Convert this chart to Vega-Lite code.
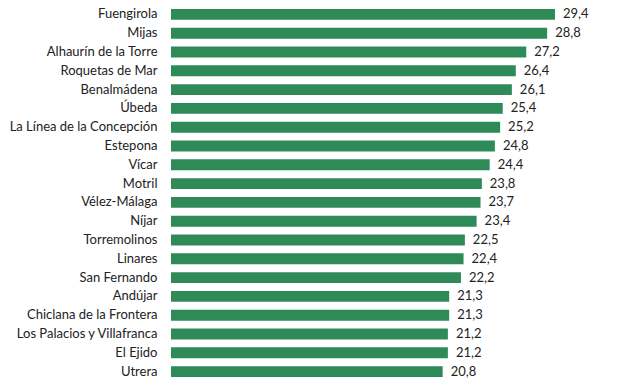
{
  "$schema": "https://vega.github.io/schema/vega-lite/v6.json",
  "autosize": "none",
  "padding": {"left": 171, "top": 5, "right": 0, "bottom": 0},
  "width": 440,
  "height": 376,
  "background": "white",
  "config": {
    "view": {"stroke": null},
    "locale": {"number": {"decimal": ",", "thousands": ".", "grouping": [3], "currency": ["", " €"]}},
    "font": "Lato"
  },
  "data": {"values": [
    {"municipio": "Fuengirola", "valor": 29.4},
    {"municipio": "Mijas", "valor": 28.8},
    {"municipio": "Alhaurín de la Torre", "valor": 27.2},
    {"municipio": "Roquetas de Mar", "valor": 26.4},
    {"municipio": "Benalmádena", "valor": 26.1},
    {"municipio": "Úbeda", "valor": 25.4},
    {"municipio": "La Línea de la Concepción", "valor": 25.2},
    {"municipio": "Estepona", "valor": 24.8},
    {"municipio": "Vícar", "valor": 24.4},
    {"municipio": "Motril", "valor": 23.8},
    {"municipio": "Vélez-Málaga", "valor": 23.7},
    {"municipio": "Níjar", "valor": 23.4},
    {"municipio": "Torremolinos", "valor": 22.5},
    {"municipio": "Linares", "valor": 22.4},
    {"municipio": "San Fernando", "valor": 22.2},
    {"municipio": "Andújar", "valor": 21.3},
    {"municipio": "Chiclana de la Frontera", "valor": 21.3},
    {"municipio": "Los Palacios y Villafranca", "valor": 21.2},
    {"municipio": "El Ejido", "valor": 21.2},
    {"municipio": "Utrera", "valor": 20.8}
  ]},
  "encoding": {
    "y": {
      "field": "municipio", "type": "nominal", "sort": null,
      "scale": {"paddingInner": 0.42, "paddingOuter": 0.21},
      "axis": {"title": null, "domain": false, "ticks": false, "labelPadding": 14, "labelFontSize": 13, "labelColor": "#222222", "labelFont": "Lato"}
    },
    "x": {
      "field": "valor", "type": "quantitative",
      "scale": {"domain": [0, 33.69], "nice": false, "zero": true},
      "axis": null
    }
  },
  "layer": [
    {"mark": {"type": "bar", "color": "#2e8b57"}},
    {"mark": {"type": "text", "align": "left", "baseline": "middle", "dx": 8, "fontSize": 13, "color": "#222222", "font": "Lato"},
     "encoding": {"text": {"field": "valor", "type": "quantitative", "format": ".1f"}}}
  ]
}
